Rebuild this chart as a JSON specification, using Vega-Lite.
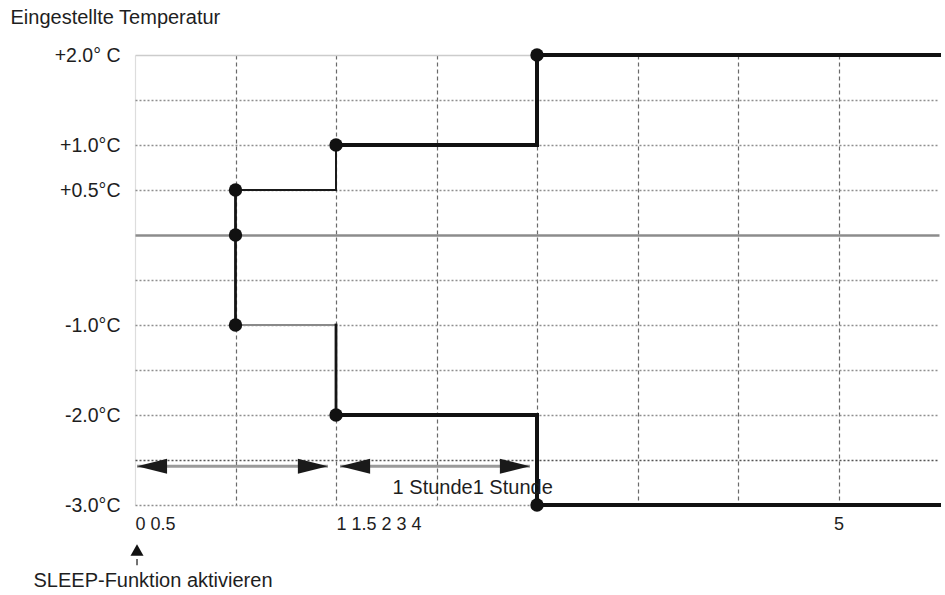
{
  "$schema": "https://vega.github.io/schema/vega-lite/v6.json",
  "width": 804,
  "height": 450,
  "autosize": {"type": "none"},
  "padding": {"left": 135, "top": 55, "right": 6, "bottom": 90},
  "background": "white",
  "config": {"view": {"stroke": null}, "font": "Liberation Sans"},
  "datasets": {
    "linien": [
      {"seg": "A", "art": "dünn", "i": 0, "x": 1, "y": 0.5},
      {"seg": "A", "art": "dünn", "i": 1, "x": 2, "y": 0.5},
      {"seg": "A", "art": "dünn", "i": 2, "x": 2, "y": 1},
      {"seg": "B", "art": "dick", "i": 0, "x": 2, "y": 1},
      {"seg": "B", "art": "dick", "i": 1, "x": 4, "y": 1},
      {"seg": "B", "art": "dick", "i": 2, "x": 4, "y": 2},
      {"seg": "B", "art": "dick", "i": 3, "x": 8, "y": 2},
      {"seg": "C", "art": "mittel", "i": 0, "x": 1, "y": 0.5},
      {"seg": "C", "art": "mittel", "i": 1, "x": 1, "y": -1},
      {"seg": "D", "art": "grau", "i": 0, "x": 1, "y": -1},
      {"seg": "D", "art": "grau", "i": 1, "x": 2, "y": -1},
      {"seg": "E", "art": "mittel", "i": 0, "x": 2, "y": -1},
      {"seg": "E", "art": "mittel", "i": 1, "x": 2, "y": -2},
      {"seg": "F", "art": "dick", "i": 0, "x": 2, "y": -2},
      {"seg": "F", "art": "dick", "i": 1, "x": 4, "y": -2},
      {"seg": "F", "art": "dick", "i": 2, "x": 4, "y": -3},
      {"seg": "F", "art": "dick", "i": 3, "x": 8, "y": -3}
    ],
    "punkte": [
      {"x": 1, "y": 0.5},
      {"x": 1, "y": 0},
      {"x": 1, "y": -1},
      {"x": 2, "y": 1},
      {"x": 2, "y": -2},
      {"x": 4, "y": 2},
      {"x": 4, "y": -3}
    ],
    "pfeile": [
      {"x": 0.02, "x2": 1.92, "y": -2.57},
      {"x": 2.04, "x2": 3.93, "y": -2.57}
    ],
    "spitzen": [
      {"x": 0.17, "y": -2.57, "richtung": "links"},
      {"x": 1.77, "y": -2.57, "richtung": "rechts"},
      {"x": 2.19, "y": -2.57, "richtung": "links"},
      {"x": 3.78, "y": -2.57, "richtung": "rechts"}
    ],
    "texte": [
      {"x": 3.36, "y": -2.81, "label": "1 Stunde1 Stunde"}
    ],
    "start": [
      {"x": 0.02, "y": -3.5}
    ],
    "stiel": [
      {"x": 0.02, "y": -3.6, "y2": -3.67}
    ]
  },
  "encoding": {
    "x": {
      "field": "x",
      "type": "quantitative",
      "scale": {"domain": [0, 8], "nice": false, "zero": false},
      "axis": {
        "values": [0, 1, 2, 3, 4, 5, 6, 7, 8],
        "title": "SLEEP-Funktion aktivieren",
        "titleX": -102,
        "titleY": 75,
        "titleAlign": "left",
        "titleBaseline": "middle",
        "titleFontSize": 20,
        "titleFontWeight": "normal",
        "titleColor": "#1e1e1e",
        "domain": false,
        "ticks": false,
        "labelExpr": "datum.value==0?'0 0.5':datum.value==2?'1 1.5 2 3 4':datum.value==7?'5':''",
        "labelAlign": {"condition": {"test": "datum.value==7", "value": "center"}, "value": "left"},
        "labelPadding": 10,
        "labelFontSize": 18,
        "labelColor": "#1e1e1e",
        "labelOverlap": false,
        "labelFlush": false,
        "grid": true,
        "gridColor": {"condition": {"test": "datum.value==0", "value": "#dddddd"}, "value": "#6a6a6a"},
        "gridDash": {"condition": {"test": "datum.value==0", "value": []}, "value": [4, 3]},
        "gridOpacity": {"condition": {"test": "datum.value==8", "value": 0}, "value": 1},
        "gridWidth": 1.2
      }
    },
    "y": {
      "field": "y",
      "type": "quantitative",
      "scale": {"domain": [-3, 2], "nice": false, "zero": false},
      "axis": {
        "values": [-3, -2.5, -2, -1.5, -1, -0.5, 0, 0.5, 1, 1.5, 2],
        "title": "Eingestellte Temperatur",
        "titleAngle": 0,
        "titleAlign": "left",
        "titleBaseline": "middle",
        "titleX": -125,
        "titleY": -38,
        "titleFontSize": 20,
        "titleFontWeight": "normal",
        "titleColor": "#1e1e1e",
        "domain": false,
        "ticks": false,
        "labelExpr": "datum.value==2?'+2.0° C':datum.value==1?'+1.0°C':datum.value==0.5?'+0.5°C':datum.value==-1?'-1.0°C':datum.value==-2?'-2.0°C':datum.value==-3?'-3.0°C':''",
        "labelPadding": 15,
        "labelFontSize": 19.5,
        "labelColor": "#1e1e1e",
        "labelOverlap": false,
        "labelFlush": false,
        "grid": true,
        "gridColor": {"condition": [
          {"test": "datum.value==0", "value": "#8c8c8c"},
          {"test": "datum.value==2", "value": "#cccccc"},
          {"test": "datum.value==-2.5", "value": "#555555"}
        ], "value": "#8f8f8f"},
        "gridDash": {"condition": {"test": "datum.value==0||datum.value==2", "value": []}, "value": [2, 2]},
        "gridWidth": {"condition": {"test": "datum.value==0", "value": 2.5}, "value": 1.3}
      }
    }
  },
  "layer": [
    {
      "data": {"name": "linien"},
      "transform": [{"filter": "datum.art=='grau'"}],
      "mark": {"type": "line", "strokeCap": "square", "strokeJoin": "miter", "color": "#8a8a8a", "strokeWidth": 2},
      "encoding": {
        "detail": {"field": "seg", "type": "nominal"},
        "order": {"field": "i", "type": "quantitative"}
      }
    },
    {
      "data": {"name": "linien"},
      "transform": [{"filter": "datum.art=='dünn'"}],
      "mark": {"type": "line", "strokeCap": "square", "strokeJoin": "miter", "color": "#1a1a1a", "strokeWidth": 2},
      "encoding": {
        "detail": {"field": "seg", "type": "nominal"},
        "order": {"field": "i", "type": "quantitative"}
      }
    },
    {
      "data": {"name": "linien"},
      "transform": [{"filter": "datum.art=='mittel'"}],
      "mark": {"type": "line", "strokeCap": "square", "strokeJoin": "miter", "color": "#151515", "strokeWidth": 2.8},
      "encoding": {
        "detail": {"field": "seg", "type": "nominal"},
        "order": {"field": "i", "type": "quantitative"}
      }
    },
    {
      "data": {"name": "linien"},
      "transform": [{"filter": "datum.art=='dick'"}],
      "mark": {"type": "line", "strokeCap": "square", "strokeJoin": "miter", "color": "#111111", "strokeWidth": 4},
      "encoding": {
        "detail": {"field": "seg", "type": "nominal"},
        "order": {"field": "i", "type": "quantitative"}
      }
    },
    {
      "data": {"name": "pfeile"},
      "mark": {"type": "rule", "color": "#9a9a9a", "strokeWidth": 3},
      "encoding": {"x2": {"field": "x2"}}
    },
    {
      "data": {"name": "spitzen"},
      "mark": {"type": "point", "filled": true, "size": 900, "opacity": 1, "color": "#1a1a1a"},
      "encoding": {
        "shape": {"field": "richtung", "type": "nominal", "scale": {"domain": ["links", "rechts"], "range": ["M-1,0L1,-0.5L1,0.5Z", "M1,0L-1,-0.5L-1,0.5Z"]}, "legend": null}
      }
    },
    {
      "data": {"name": "punkte"},
      "mark": {"type": "point", "filled": true, "size": 180, "opacity": 1, "color": "#111111"}
    },
    {
      "data": {"name": "texte"},
      "mark": {"type": "text", "fontSize": 20, "color": "#1e1e1e", "align": "center", "baseline": "middle"},
      "encoding": {"text": {"field": "label", "type": "nominal"}}
    },
    {
      "data": {"name": "start"},
      "mark": {"type": "point", "shape": "triangle-up", "filled": true, "size": 170, "opacity": 1, "color": "#111111"}
    },
    {
      "data": {"name": "stiel"},
      "mark": {"type": "rule", "color": "#444444", "strokeWidth": 1.5},
      "encoding": {"y2": {"field": "y2"}}
    }
  ]
}
